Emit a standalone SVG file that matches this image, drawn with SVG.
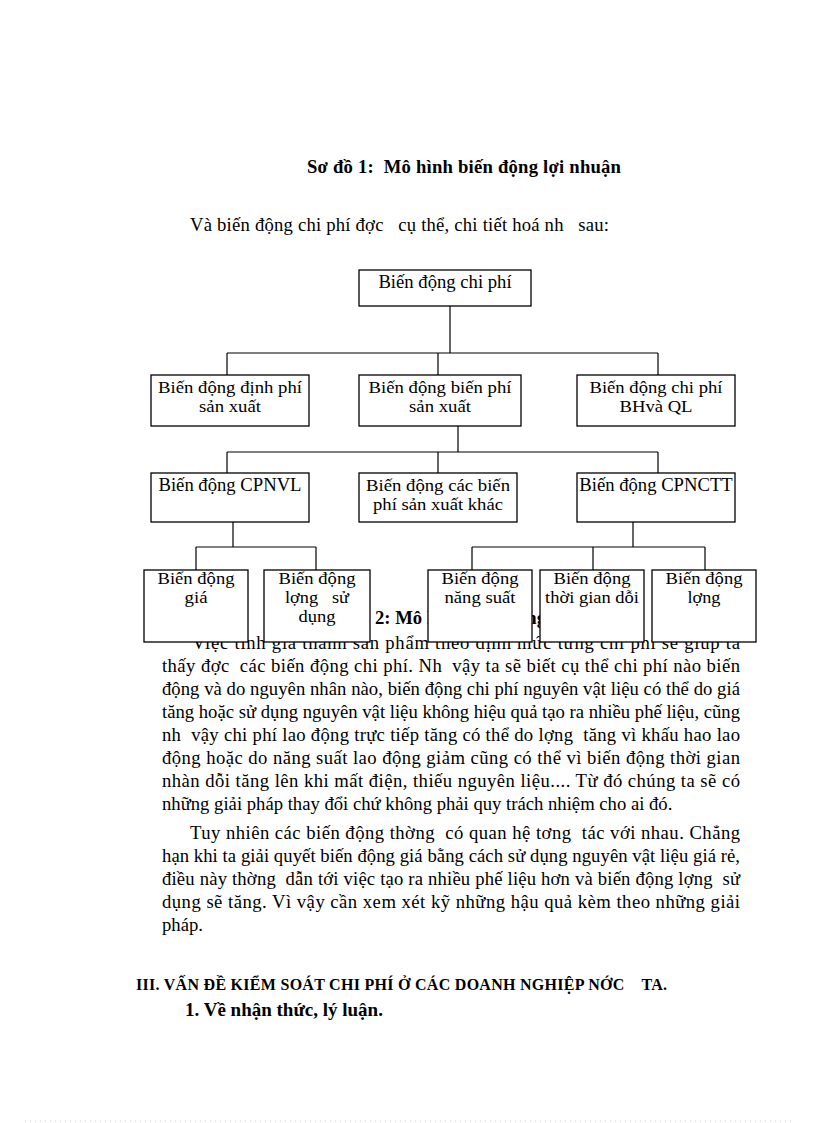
<svg xmlns="http://www.w3.org/2000/svg" width="816" height="1123" viewBox="0 0 816 1123">
<style>
.t{font-family:"Liberation Serif","Times New Roman",serif;font-size:18.67px;fill:#000;white-space:pre}
.bx{font-size:17px}
.b{font-weight:bold}
.c{text-anchor:middle}
.box{fill:#fff;stroke:#000;stroke-width:1.3}
.ln{stroke:#000;stroke-width:1.2;fill:none}
</style>
<rect width="816" height="1123" fill="#fff"/>
<g id="page-text">
<text class="t b" x="307" y="173" textLength="314" lengthAdjust="spacing">Sơ đồ 1:  Mô hình biến động lợi nhuận</text>
<text class="t" x="190" y="231" textLength="419" lengthAdjust="spacing">Và biến động chi phí đợc   cụ thể, chi tiết hoá nh   sau:</text>
<text class="t b" x="375" y="624">2: Mô hình biến động</text>
<text class="t" x="192" y="649" textLength="548" lengthAdjust="spacing">Việc tính giá thành sản phẩm theo định mức từng chi phí sẽ giúp ta</text>
<text class="t" x="162" y="672" textLength="578" lengthAdjust="spacing">thấy đợc  các biến động chi phí. Nh  vậy ta sẽ biết cụ thể chi phí nào biến</text>
<text class="t" x="162" y="695" textLength="578" lengthAdjust="spacing">động và do nguyên nhân nào, biến động chi phí nguyên vật liệu có thể do giá</text>
<text class="t" x="162" y="718" textLength="578" lengthAdjust="spacing">tăng hoặc sử dụng nguyên vật liệu không hiệu quả tạo ra nhiều phế liệu, cũng</text>
<text class="t" x="162" y="741" textLength="578" lengthAdjust="spacing">nh  vậy chi phí lao động trực tiếp tăng có thể do lợng  tăng vì khấu hao lao</text>
<text class="t" x="162" y="764" textLength="578" lengthAdjust="spacing">động hoặc do năng suất lao động giảm cũng có thể vì biến động thời gian</text>
<text class="t" x="162" y="787" textLength="578" lengthAdjust="spacing">nhàn dỗi tăng lên khi mất điện, thiếu nguyên liệu.... Từ đó chúng ta sẽ có</text>
<text class="t" x="162" y="810">những giải pháp thay đổi chứ không phải quy trách nhiệm cho ai đó.</text>
<text class="t" x="190" y="839" textLength="550" lengthAdjust="spacing">Tuy nhiên các biến động thờng  có quan hệ tơng  tác với nhau. Chẳng</text>
<text class="t" x="162" y="862" textLength="578" lengthAdjust="spacing">hạn khi ta giải quyết biến động giá bằng cách sử dụng nguyên vật liệu giá rẻ,</text>
<text class="t" x="162" y="885" textLength="578" lengthAdjust="spacing">điều này thờng  dẫn tới việc tạo ra nhiều phế liệu hơn và biến động lợng  sử</text>
<text class="t" x="162" y="908" textLength="578" lengthAdjust="spacing">dụng sẽ tăng. Vì vậy cần xem xét kỹ những hậu quả kèm theo những giải</text>
<text class="t" x="162" y="931">pháp.</text>
<text class="t b" x="136" y="990" style="font-size:16px" textLength="531" lengthAdjust="spacing">III. VẤN ĐỀ KIỂM SOÁT CHI PHÍ Ở CÁC DOANH NGHIỆP NỚC    TA.</text>
<text class="t b" x="185" y="1016" style="font-size:19px">1. Về nhận thức, lý luận.</text>
</g>
<g id="connectors">
<path class="ln" d="M450 306V353M227 353H658M227 353V375M438 353V375M658 353V375"/>
<path class="ln" d="M458 426V452M227 452H658M227 452V473M438 452V473M658 452V473"/>
<path class="ln" d="M233 522V547M196 547H316M196 547V570M316 547V570"/>
<path class="ln" d="M633 522V547M472 547H705M472 547V570M593 547V570M705 547V570"/>
</g>
<g id="n-chiphi"><rect class="box" x="359" y="270" width="172" height="36"/><text class="t c" x="445" y="288">Biến động chi phí</text></g>
<g id="n-dinhphi"><rect class="box" x="151" y="375" width="158" height="51"/><text class="t bx c" x="230" y="393" textLength="144" lengthAdjust="spacingAndGlyphs">Biến động định phí</text><text class="t bx c" x="230" y="412" textLength="62" lengthAdjust="spacingAndGlyphs">sản xuất</text></g>
<g id="n-bienphi"><rect class="box" x="359" y="375" width="162" height="51"/><text class="t bx c" x="440" y="393" textLength="143" lengthAdjust="spacingAndGlyphs">Biến động biến phí</text><text class="t bx c" x="440" y="412" textLength="62" lengthAdjust="spacingAndGlyphs">sản xuất</text></g>
<g id="n-bhql"><rect class="box" x="577" y="375" width="158" height="51"/><text class="t bx c" x="656" y="393" textLength="133" lengthAdjust="spacingAndGlyphs">Biến động chi phí</text><text class="t bx c" x="656" y="412" textLength="73" lengthAdjust="spacingAndGlyphs">BHvà QL</text></g>
<g id="n-cpnvl"><rect class="box" x="151" y="473" width="158" height="49"/><text class="t c" x="230" y="491">Biến động CPNVL</text></g>
<g id="n-khac"><rect class="box" x="359" y="473" width="158" height="49"/><text class="t bx c" x="438" y="491" textLength="144" lengthAdjust="spacingAndGlyphs">Biến động các biến</text><text class="t bx c" x="438" y="510" textLength="130" lengthAdjust="spacingAndGlyphs">phí sản xuất khác</text></g>
<g id="n-cpnctt"><rect class="box" x="577" y="473" width="158" height="49"/><text class="t c" x="656" y="491">Biến động CPNCTT</text></g>
<g id="n-gia"><rect class="box" x="144" y="570" width="104" height="72"/><text class="t bx c" x="196" y="584" textLength="77" lengthAdjust="spacingAndGlyphs">Biến động</text><text class="t bx c" x="196" y="603" textLength="23" lengthAdjust="spacingAndGlyphs">giá</text></g>
<g id="n-luongsd"><rect class="box" x="264" y="570" width="106" height="72"/><text class="t bx c" x="317" y="584" textLength="77" lengthAdjust="spacingAndGlyphs">Biến động</text><text class="t bx c" x="317" y="603" textLength="64" lengthAdjust="spacingAndGlyphs">lợng   sử</text><text class="t bx c" x="317" y="622" textLength="37" lengthAdjust="spacingAndGlyphs">dụng</text></g>
<g id="n-nangsuat"><rect class="box" x="428" y="570" width="104" height="72"/><text class="t bx c" x="480" y="584" textLength="77" lengthAdjust="spacingAndGlyphs">Biến động</text><text class="t bx c" x="480" y="603" textLength="71" lengthAdjust="spacingAndGlyphs">năng suất</text></g>
<g id="n-thoigian"><rect class="box" x="540" y="570" width="104" height="72"/><text class="t bx c" x="592" y="584" textLength="77" lengthAdjust="spacingAndGlyphs">Biến động</text><text class="t bx c" x="592" y="603" textLength="94" lengthAdjust="spacingAndGlyphs">thời gian dỗi</text></g>
<g id="n-luong"><rect class="box" x="652" y="570" width="104" height="72"/><text class="t bx c" x="704" y="584" textLength="77" lengthAdjust="spacingAndGlyphs">Biến động</text><text class="t bx c" x="704" y="603" textLength="33" lengthAdjust="spacingAndGlyphs">lợng</text></g>
<line x1="25" y1="1121" x2="791" y2="1121" stroke="#ccc" stroke-width="1" stroke-dasharray="1 4"/>
</svg>
